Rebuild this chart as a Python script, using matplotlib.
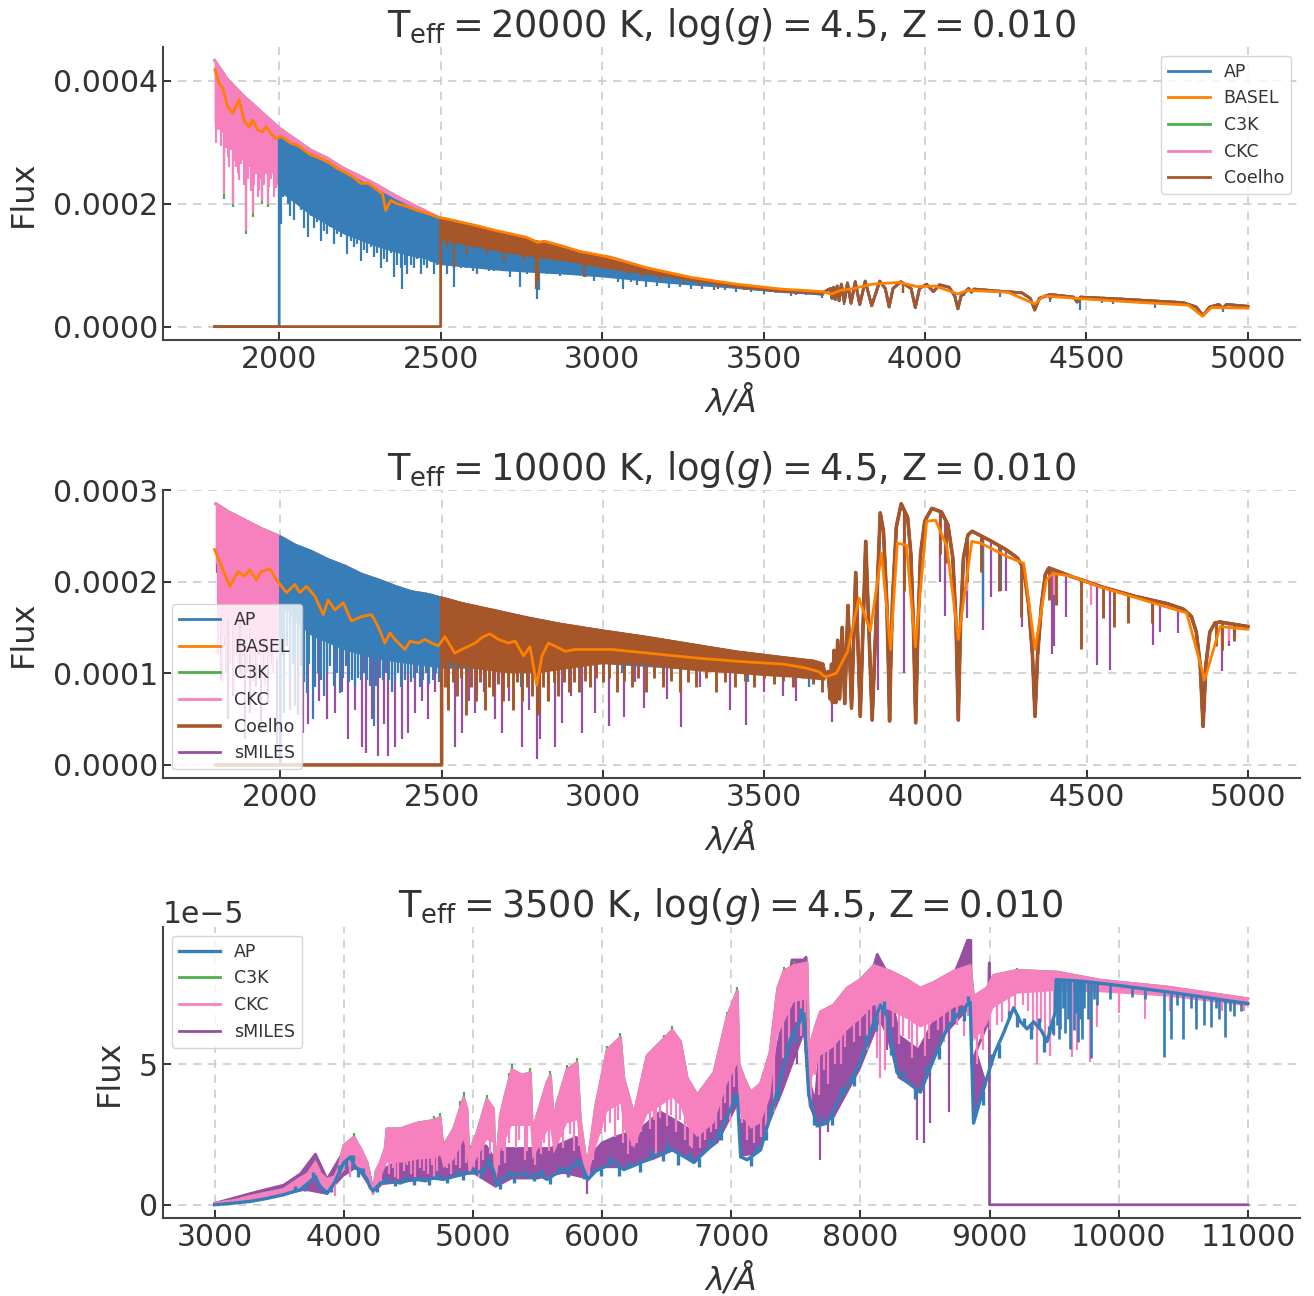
import numpy as np
import matplotlib.pyplot as plt

# ---------------------------------------------------------------------------
# Spectra, digitised as (wavelength [A], flux) knots.
# Panels 1-2 fluxes are in units of 1e-4, panel 3 in units of 1e-5.
# "top"    : upper continuum / pseudo-continuum of each model
# "base"   : lower edge of the dense line forest (filled between top and base)
# "spikes" : individual lines (wavelength, flux at the line tip)
# "ripple" : small wiggles along a curve (wavelength, offset from the curve)
# ---------------------------------------------------------------------------

# ---- Teff = 20000 K -------------------------------------------------------
p1_top = np.array([
    [1800, 4.33], [1840, 4.02], [1892, 3.74], [1943, 3.50], [2000, 3.23], [2046, 3.06],
    [2098, 2.87], [2149, 2.74], [2201, 2.57], [2253, 2.44], [2304, 2.30], [2356, 2.14],
    [2407, 2.00], [2500, 1.76], [2613, 1.60], [2768, 1.42], [2871, 1.28], [3026, 1.08],
    [3136, 0.92], [3276, 0.76], [3416, 0.65], [3556, 0.58], [3640, 0.56], [3680, 0.54],
    [3700, 0.60], [3708, 0.62], [3712, 0.46], [3717, 0.64], [3722, 0.44], [3728, 0.66],
    [3734, 0.42], [3741, 0.69], [3750, 0.40], [3760, 0.71], [3771, 0.38], [3784, 0.73],
    [3798, 0.36], [3815, 0.74], [3835, 0.34], [3860, 0.74], [3877, 0.62], [3889, 0.32],
    [3901, 0.62], [3925, 0.73], [3957, 0.62], [3970, 0.31], [3983, 0.62], [4005, 0.69],
    [4026, 0.57], [4045, 0.68], [4075, 0.64], [4092, 0.50], [4102, 0.29], [4112, 0.50],
    [4135, 0.62], [4144, 0.56], [4152, 0.61], [4220, 0.58], [4300, 0.55], [4326, 0.46],
    [4340, 0.27], [4354, 0.46], [4385, 0.52], [4388, 0.46], [4392, 0.52], [4460, 0.48],
    [4471, 0.40], [4482, 0.48], [4600, 0.45], [4700, 0.42], [4800, 0.39], [4840, 0.32],
    [4861, 0.18], [4882, 0.32], [4910, 0.36], [4922, 0.30], [4934, 0.36], [5000, 0.33]])

p1_ap_uv = np.array([
    [1800, 0], [2000, 0], [2000, 3.08], [2046, 2.94], [2098, 2.76], [2149, 2.63],
    [2201, 2.47], [2253, 2.35], [2304, 2.21], [2356, 2.06], [2407, 1.93], [2500, 1.72],
    [2613, 1.57], [2768, 1.39], [2871, 1.25], [3026, 1.05], [3136, 0.90], [3276, 0.75],
    [3416, 0.64], [3556, 0.57], [3640, 0.55], [3680, 0.53]])
p1_ap_base = np.array([
    [2000, 2.2], [2050, 2.0], [2100, 1.8], [2150, 1.65], [2200, 1.5], [2250, 1.4],
    [2300, 1.3], [2350, 1.22], [2400, 1.15], [2450, 1.1], [2500, 1.0], [2600, 0.95],
    [2700, 0.9], [2800, 0.87], [2900, 0.84], [3000, 0.8], [3200, 0.7], [3400, 0.62],
    [3690, 0.50]])
p1_ap_spikes = np.array([
    [2005, 1.67], [2012, 2.1], [2026, 2.0], [2033, 1.8], [2046, 1.73], [2055, 2.0],
    [2067, 1.9], [2078, 1.6], [2088, 1.45], [2097, 1.8], [2108, 1.6], [2117, 1.7],
    [2129, 1.40], [2138, 1.55], [2149, 1.50], [2158, 1.62], [2170, 1.35], [2180, 1.5],
    [2191, 1.45], [2200, 1.55], [2211, 1.18], [2221, 1.4], [2232, 1.30], [2242, 1.35],
    [2253, 1.07], [2262, 1.25], [2273, 1.20], [2283, 1.3], [2294, 1.13], [2304, 1.2],
    [2314, 0.96], [2324, 1.1], [2335, 1.05], [2345, 1.2], [2356, 0.80], [2366, 1.0],
    [2376, 0.96], [2381, 0.61], [2390, 1.0], [2397, 0.85], [2408, 1.0], [2418, 0.95],
    [2428, 1.1], [2438, 0.85], [2448, 1.0], [2459, 0.96], [2469, 1.05], [2479, 0.85],
    [2488, 1.0], [2495, 1.07], [2510, 1.0], [2521, 0.85], [2530, 1.0], [2541, 0.64],
    [2552, 1.0], [2562, 0.96], [2580, 0.95], [2600, 0.9], [2613, 0.85], [2630, 0.95],
    [2650, 0.9], [2665, 0.91], [2690, 0.9], [2716, 0.80], [2730, 0.9], [2747, 0.64],
    [2768, 0.85], [2785, 0.9], [2799, 0.45], [2805, 0.6], [2830, 0.85], [2850, 0.88],
    [2871, 0.83], [2900, 0.85], [2923, 0.85], [2950, 0.80], [2974, 0.75], [3000, 0.8],
    [3026, 0.85], [3050, 0.72], [3066, 0.61], [3090, 0.72], [3108, 0.68], [3136, 0.64],
    [3170, 0.66], [3206, 0.63], [3240, 0.65], [3276, 0.61], [3310, 0.62], [3346, 0.60],
    [3380, 0.60], [3416, 0.56], [3460, 0.57], [3500, 0.53], [3540, 0.55], [3584, 0.50],
    [3630, 0.52], [3682, 0.47], [3750, 0.35], [3933, 0.55], [4121, 0.50], [4233, 0.48],
    [4387, 0.40], [4481, 0.27], [4549, 0.38], [4583, 0.36], [4713, 0.30], [4922, 0.24]])

p1_coelho_base = np.array([
    [2500, 1.4], [2600, 1.3], [2700, 1.2], [2800, 1.12], [2900, 1.05], [3000, 0.95],
    [3200, 0.80], [3400, 0.66], [3690, 0.52]])
p1_coelho_spikes = np.array([
    [2521, 1.29], [2541, 0.96], [2562, 1.35], [2582, 1.18], [2600, 1.3], [2613, 1.35],
    [2644, 1.18], [2665, 1.29], [2696, 1.07], [2727, 1.24], [2758, 1.07], [2794, 0.61],
    [2803, 0.75], [2820, 1.13], [2851, 1.07], [2882, 1.13], [2913, 1.05], [2944, 0.80],
    [2974, 1.02], [3026, 0.96], [3080, 0.85], [3120, 0.80], [3180, 0.75], [3250, 0.70],
    [3300, 0.66], [3360, 0.62], [3440, 0.60], [3520, 0.56], [3600, 0.52], [3933, 0.55],
    [4128, 0.55], [4481, 0.42], [4549, 0.42], [4584, 0.40]])

p1_ckc_base = np.array([
    [1800, 3.3], [1850, 3.0], [1900, 2.75], [1950, 2.55], [2000, 2.45], [2100, 2.35],
    [2200, 2.15], [2300, 1.95], [2400, 1.8], [2500, 1.6], [2700, 1.35], [3000, 1.0],
    [3300, 0.72], [3690, 0.53]])
p1_ckc_spikes = np.array([
    [1804, 2.98], [1812, 3.2], [1820, 2.93], [1830, 2.16], [1836, 2.9], [1840, 2.76],
    [1846, 2.6], [1851, 2.87], [1856, 2.00], [1862, 2.7], [1866, 2.60], [1871, 2.5],
    [1876, 2.38], [1882, 2.65], [1887, 2.71], [1892, 2.3], [1897, 1.56], [1902, 2.4],
    [1907, 2.60], [1913, 2.2], [1918, 1.84], [1923, 2.3], [1928, 2.49], [1933, 2.1],
    [1938, 2.22], [1943, 2.4], [1948, 2.05], [1954, 2.3], [1959, 2.49], [1964, 2.0],
    [1969, 2.27], [1974, 2.4], [1979, 2.60], [1985, 2.1], [1990, 2.25], [1995, 2.3]])
p1_c3k_spikes = np.array([
    [1830, 2.08], [1856, 1.94], [1897, 1.50], [1918, 1.78], [1948, 1.99], [1964, 1.94]])

p1_basel = np.array([
    [1801, 4.18], [1814, 3.96], [1825, 3.88], [1840, 3.58], [1856, 3.47], [1876, 3.69],
    [1892, 3.34], [1907, 3.25], [1918, 3.36], [1933, 3.20], [1948, 3.17], [1959, 3.25],
    [1974, 3.14], [1990, 3.06], [2005, 3.09], [2021, 3.04], [2036, 2.98], [2057, 2.95],
    [2077, 2.87], [2098, 2.79], [2119, 2.76], [2139, 2.71], [2160, 2.65], [2180, 2.57],
    [2201, 2.52], [2227, 2.44], [2253, 2.33], [2278, 2.33], [2304, 2.22], [2320, 2.16],
    [2330, 1.89], [2345, 2.05], [2366, 2.00], [2397, 1.95], [2428, 1.89], [2459, 1.84],
    [2490, 1.78], [2521, 1.75], [2562, 1.70], [2613, 1.64], [2665, 1.57], [2716, 1.51],
    [2768, 1.45], [2799, 1.37], [2820, 1.39], [2871, 1.32], [2933, 1.22], [3026, 1.13],
    [3136, 0.96], [3276, 0.80], [3416, 0.69], [3556, 0.61], [3682, 0.57], [3710, 0.53],
    [3738, 0.59], [3780, 0.62], [3836, 0.69], [3920, 0.72], [3976, 0.65], [4032, 0.66],
    [4102, 0.53], [4130, 0.59], [4256, 0.56], [4340, 0.37], [4368, 0.50], [4466, 0.46],
    [4676, 0.39], [4816, 0.35], [4859, 0.17], [4887, 0.31], [5000, 0.30]])

# ---- Teff = 10000 K -------------------------------------------------------
p2_top = np.array([
    [1800, 2.85], [1840, 2.76], [1890, 2.67], [1940, 2.58], [2000, 2.49], [2045, 2.40],
    [2096, 2.33], [2148, 2.24], [2200, 2.17], [2252, 2.08], [2303, 2.02], [2355, 1.95],
    [2407, 1.89], [2459, 1.86], [2500, 1.82], [2562, 1.76], [2666, 1.68], [2769, 1.60],
    [2873, 1.53], [3000, 1.46], [3136, 1.39], [3276, 1.31], [3416, 1.23], [3556, 1.17],
    [3654, 1.13], [3682, 1.10], [3690, 0.96], [3698, 1.02], [3705, 0.72], [3709, 1.10],
    [3712, 0.68], [3717, 1.25], [3722, 0.68], [3728, 1.36], [3734, 0.72], [3742, 1.50],
    [3750, 0.67], [3760, 1.74], [3771, 0.62], [3784, 2.10], [3798, 0.53], [3815, 2.44],
    [3835, 0.49], [3860, 2.75], [3870, 2.55], [3880, 1.8], [3886, 1.0], [3889, 0.48],
    [3892, 1.0], [3898, 1.8], [3910, 2.6], [3925, 2.85], [3945, 2.70], [3955, 2.3],
    [3963, 1.5], [3970, 0.46], [3977, 1.5], [3985, 2.3], [3998, 2.66], [4020, 2.80],
    [4050, 2.76], [4070, 2.62], [4085, 2.26], [4095, 1.54], [4102, 0.49], [4109, 1.54],
    [4118, 2.26], [4132, 2.51], [4145, 2.55], [4200, 2.45], [4250, 2.35], [4285, 2.26],
    [4305, 2.14], [4320, 1.75], [4332, 1.2], [4340, 0.53], [4348, 1.2], [4360, 1.75],
    [4372, 2.08], [4383, 2.15], [4450, 2.06], [4550, 1.94], [4650, 1.84], [4750, 1.76],
    [4800, 1.70], [4825, 1.62], [4840, 1.45], [4852, 1.1], [4861, 0.42], [4870, 1.1],
    [4882, 1.45], [4898, 1.55], [4914, 1.56], [5000, 1.51]])

p2_ap_base = np.array([
    [2000, 1.8], [2050, 1.55], [2100, 1.4], [2200, 1.25], [2300, 1.15], [2400, 1.1],
    [2500, 1.05], [2700, 1.05], [3000, 1.1], [3300, 1.03], [3690, 0.95]])
p2_ap_spikes = np.array([
    [2005, 1.2], [2012, 0.57], [2020, 1.3], [2030, 0.93], [2040, 1.1], [2046, 0.64],
    [2055, 1.2], [2063, 1.08], [2072, 0.9], [2081, 0.79], [2090, 1.1], [2100, 0.5],
    [2108, 0.85], [2117, 1.0], [2127, 0.93], [2136, 0.75], [2146, 1.0], [2155, 1.08],
    [2165, 0.86], [2174, 1.0], [2184, 0.79], [2193, 0.95], [2203, 1.08], [2212, 0.9],
    [2222, 0.93], [2231, 0.86], [2241, 0.95], [2250, 0.93], [2260, 1.0], [2270, 0.93],
    [2279, 0.86], [2289, 0.42], [2298, 0.86], [2308, 0.95], [2317, 0.93], [2327, 1.0],
    [2337, 0.93], [2346, 0.8], [2356, 0.93], [2366, 1.0], [2375, 0.85], [2385, 0.93],
    [2395, 1.0], [2404, 0.9], [2414, 0.95], [2424, 1.0], [2433, 0.85], [2443, 0.93],
    [2453, 1.0], [2462, 0.88], [2472, 0.93], [2482, 1.0], [2491, 0.9], [2610, 0.8],
    [2745, 0.85], [2852, 0.9], [3060, 1.0], [3450, 0.9], [3640, 0.85], [4130, 2.0],
    [4178, 1.7], [4233, 1.9], [4385, 1.8]])

p2_coelho_base = np.array([
    [2500, 1.15], [2600, 1.05], [2700, 1.0], [2800, 1.0], [2900, 1.05], [3000, 1.1],
    [3100, 1.1], [3200, 1.06], [3300, 1.02], [3400, 1.0], [3500, 0.97], [3600, 0.95],
    [3690, 0.92]])
p2_coelho_spikes = np.array([
    [2510, 0.85], [2520, 0.6], [2535, 0.9], [2548, 0.75], [2560, 0.95], [2575, 0.55],
    [2590, 0.85], [2605, 0.7], [2620, 0.9], [2633, 0.6], [2648, 0.85], [2660, 0.75],
    [2675, 0.88], [2690, 0.7], [2705, 0.85], [2720, 0.6], [2735, 0.9], [2750, 0.7],
    [2765, 0.85], [2780, 0.75], [2795, 0.55], [2803, 0.6], [2815, 0.85], [2830, 0.7],
    [2848, 0.9], [2862, 0.75], [2880, 0.9], [2895, 0.8], [2910, 0.9], [2925, 0.8],
    [2945, 0.92], [2960, 0.85], [2980, 0.95], [3000, 0.9], [3020, 0.95], [3045, 0.8],
    [3065, 0.92], [3090, 0.85], [3110, 0.95], [3135, 0.8], [3160, 0.95], [3185, 0.85],
    [3210, 0.92], [3240, 0.8], [3265, 0.9], [3290, 0.85], [3320, 0.95], [3350, 0.8],
    [3380, 0.9], [3410, 0.85], [3440, 0.92], [3470, 0.85], [3500, 0.95], [3530, 0.88],
    [3560, 0.92], [3590, 0.85], [3620, 0.95], [3650, 0.88], [3680, 0.8], [3933, 1.9],
    [4045, 2.3], [4063, 2.2], [4128, 2.0], [4172, 2.1], [4227, 1.9], [4298, 1.61],
    [4384, 1.8], [4404, 1.75], [4481, 1.27], [4550, 1.6], [4584, 1.5], [4629, 1.55],
    [4703, 1.55], [4900, 1.3], [4921, 1.25], [4957, 1.35]])

p2_ckc_base = np.array([
    [1800, 2.2], [1850, 2.0], [1900, 1.9], [1950, 1.8], [2000, 1.75], [2100, 1.7],
    [2200, 1.6], [2300, 1.5], [2400, 1.45], [2500, 1.4], [2700, 1.3], [3000, 1.2],
    [3300, 1.1], [3690, 1.0]])
p2_ckc_spikes = np.array([
    [1805, 1.2], [1812, 1.5], [1818, 0.9], [1825, 1.4], [1830, 1.0], [1838, 1.6],
    [1844, 1.1], [1850, 1.5], [1856, 0.8], [1862, 1.3], [1868, 1.1], [1874, 1.6],
    [1880, 0.95], [1886, 1.4], [1892, 1.2], [1898, 1.0], [1904, 1.5], [1910, 1.2],
    [1916, 0.9], [1922, 1.4], [1928, 1.1], [1934, 1.3], [1940, 1.0], [1946, 1.4],
    [1952, 0.85], [1958, 1.3], [1964, 1.1], [1970, 1.4], [1976, 1.0], [1982, 1.3],
    [1988, 1.15], [1994, 1.35], [4128, 1.9], [4178, 1.8], [4385, 1.9], [4400, 1.85],
    [4515, 1.75], [4921, 1.3], [4940, 1.35], [4960, 1.4]])
p2_c3k_spikes = np.array([
    [1838, 1.55], [1925, 1.3], [2270, 1.3], [2590, 1.2], [2740, 1.0]])

p2_smiles_base = np.array([
    [1800, 2.1], [1900, 1.85], [2000, 1.7], [2200, 1.5], [2500, 1.35], [3000, 1.2],
    [3690, 1.0]])
p2_smiles_spikes = np.array([
    [1817, 0.93], [1827, 1.3], [1837, 0.50], [1845, 1.1], [1853, 0.75], [1864, 1.2],
    [1874, 1.0], [1889, 0.28], [1897, 1.1], [1905, 0.57], [1915, 1.0], [1925, 0.85],
    [1933, 1.2], [1941, 0.35], [1950, 1.0], [1962, 0.65], [1975, 1.1], [1988, 0.20],
    [2010, 0.9], [2030, 0.6], [2055, 0.55], [2070, 0.35], [2085, 0.45], [2120, 0.7],
    [2145, 0.5], [2169, 0.57], [2190, 0.8], [2210, 0.28], [2230, 0.6], [2252, 0.20],
    [2267, 0.13], [2285, 0.5], [2303, 0.10], [2320, 0.45], [2334, 0.10], [2355, 0.20],
    [2376, 0.28], [2397, 0.35], [2418, 0.57], [2440, 0.7], [2459, 0.50], [2480, 0.8],
    [2520, 0.65], [2541, 0.20], [2562, 0.35], [2585, 0.7], [2604, 0.57], [2630, 0.8],
    [2666, 0.50], [2686, 0.35], [2710, 0.7], [2748, 0.20], [2770, 0.6], [2795, 0.06],
    [2805, 0.28], [2830, 0.7], [2852, 0.20], [2873, 0.46], [2900, 0.75], [2935, 0.35],
    [2976, 0.57], [3018, 0.42], [3065, 0.52], [3100, 0.9], [3129, 0.62], [3199, 0.72],
    [3241, 0.41], [3300, 0.85], [3395, 0.60], [3444, 0.44], [3500, 0.80], [3560, 0.75],
    [3600, 0.70], [3710, 0.47], [3853, 0.82], [3933, 1.0], [4045, 2.0], [4062, 1.63],
    [4130, 1.6], [4179, 1.47], [4202, 1.83], [4250, 1.9], [4300, 1.5], [4393, 1.21],
    [4400, 1.3], [4435, 1.61], [4533, 1.09], [4571, 1.04], [4705, 1.31], [4726, 1.45],
    [4782, 1.44], [4921, 1.02], [4943, 1.3]])

p2_basel = np.array([
    [1796, 2.35], [1843, 1.95], [1869, 2.11], [1889, 2.06], [1905, 2.13], [1925, 2.02],
    [1941, 2.11], [1967, 2.14], [1988, 2.02], [2019, 1.88], [2045, 1.97], [2060, 1.88],
    [2081, 1.95], [2107, 1.84], [2133, 1.64], [2148, 1.80], [2169, 1.69], [2195, 1.77],
    [2220, 1.57], [2252, 1.62], [2283, 1.64], [2303, 1.51], [2324, 1.33], [2340, 1.44],
    [2355, 1.37], [2386, 1.26], [2402, 1.35], [2428, 1.33], [2448, 1.37], [2469, 1.33],
    [2490, 1.30], [2510, 1.40], [2541, 1.22], [2562, 1.26], [2604, 1.33], [2629, 1.40],
    [2650, 1.43], [2676, 1.37], [2707, 1.33], [2728, 1.35], [2754, 1.19], [2774, 1.29],
    [2795, 0.87], [2811, 1.19], [2831, 1.33], [2862, 1.28], [2883, 1.24], [2914, 1.26],
    [2945, 1.26], [3028, 1.26], [3140, 1.22], [3280, 1.17], [3420, 1.13], [3560, 1.10],
    [3626, 1.06], [3668, 1.02], [3690, 0.96], [3724, 1.00], [3759, 1.24], [3794, 1.82],
    [3829, 1.46], [3864, 2.31], [3892, 1.26], [3913, 2.42], [3941, 2.40], [3969, 1.29],
    [4004, 2.66], [4032, 2.67], [4067, 2.38], [4102, 1.37], [4144, 2.44], [4172, 2.42],
    [4256, 2.27], [4305, 2.20], [4340, 1.26], [4375, 2.02], [4396, 2.09], [4452, 2.06],
    [4536, 1.95], [4676, 1.80], [4761, 1.71], [4810, 1.66], [4866, 0.93], [4914, 1.51],
    [5000, 1.48]])

# ---- Teff = 3500 K --------------------------------------------------------
p3_ckc_top = np.array([
    [3000, 0.05], [3150, 0.15], [3278, 0.30], [3400, 0.42], [3536, 0.55], [3600, 0.75],
    [3665, 0.95], [3720, 1.1], [3781, 1.50], [3820, 1.1], [3871, 0.90], [3930, 1.0],
    [3960, 1.3], [4000, 2.1], [4077, 2.4], [4130, 2.0], [4180, 1.5], [4227, 0.4],
    [4250, 1.2], [4283, 1.5], [4320, 2.0], [4335, 2.7], [4438, 2.7], [4500, 2.8],
    [4567, 2.9], [4630, 2.95], [4696, 3.0], [4747, 3.1], [4760, 2.4], [4773, 2.1],
    [4851, 2.7], [4928, 3.8], [4954, 3.4], [4970, 1.6], [5000, 2.2], [5031, 2.55],
    [5108, 3.75], [5160, 3.4], [5173, 0.9], [5212, 3.15], [5250, 3.9], [5302, 4.8],
    [5380, 4.6], [5445, 4.7], [5460, 2.6], [5574, 4.35], [5600, 4.6], [5625, 2.9],
    [5650, 3.6], [5729, 4.8], [5806, 5.05], [5832, 3.0], [5884, 1.3], [5950, 3.5],
    [6039, 5.5], [6142, 5.95], [6168, 4.5], [6246, 3.2], [6349, 5.3], [6478, 5.9],
    [6543, 6.2], [6607, 5.8], [6659, 4.5], [6737, 3.9], [6866, 4.7], [6969, 6.7],
    [7047, 7.6], [7060, 5.0], [7100, 4.5], [7150, 4.0], [7227, 4.3], [7300, 5.4],
    [7360, 7.7], [7407, 8.3], [7484, 8.5], [7587, 8.6], [7600, 5.5], [7650, 6.3],
    [7690, 6.85], [7793, 7.1], [7897, 7.7], [8000, 8.0], [8103, 8.5], [8232, 8.3],
    [8361, 8.0], [8464, 7.7], [8567, 7.9], [8722, 8.3], [8850, 8.5], [8876, 7.4],
    [8979, 7.7], [9031, 8.15], [9212, 8.33], [9522, 8.27], [9858, 7.98], [10375, 7.74],
    [11000, 7.32]])
p3_ckc_base = np.array([
    [3000, 0.0], [3278, 0.15], [3536, 0.3], [3665, 0.55], [3781, 0.9], [3871, 0.5],
    [4000, 1.2], [4077, 1.5], [4180, 1.0], [4227, 0.35], [4283, 0.9], [4335, 1.5],
    [4450, 1.5], [4567, 1.6], [4696, 1.65], [4747, 1.75], [4773, 1.3], [4851, 1.6],
    [4928, 2.3], [4954, 1.8], [4970, 1.0], [5000, 1.4], [5108, 2.3], [5160, 2.2],
    [5173, 0.6], [5212, 1.9], [5302, 2.8], [5445, 2.8], [5460, 1.6], [5574, 2.6],
    [5600, 2.7], [5625, 1.8], [5729, 2.9], [5806, 3.0], [5832, 1.9], [5884, 0.9],
    [5950, 2.0], [6039, 3.3], [6142, 3.6], [6168, 2.7], [6246, 2.0], [6349, 3.2],
    [6478, 3.6], [6543, 3.8], [6607, 3.5], [6659, 2.8], [6737, 2.4], [6866, 2.9],
    [6969, 4.3], [7047, 5.0], [7060, 3.3], [7150, 2.7], [7227, 2.9], [7300, 3.8],
    [7360, 6.0], [7484, 7.2], [7587, 7.3], [7600, 4.2], [7690, 5.3], [7793, 5.6],
    [7897, 6.2], [8000, 6.6], [8103, 7.1], [8232, 6.9], [8361, 6.6], [8464, 6.3],
    [8567, 6.5], [8722, 7.0], [8850, 7.2], [8876, 5.8], [8979, 6.4], [9031, 7.0],
    [9212, 7.5], [9522, 7.6], [9858, 7.55], [10375, 7.4], [11000, 7.05]])
p3_ckc_spikes = np.array([
    [3935, 0.3], [4050, 1.0], [4290, 0.7], [4350, 1.1], [4380, 1.3], [4400, 1.0],
    [4420, 0.9], [4470, 1.2], [4490, 1.4], [4520, 1.1], [4550, 1.0], [4590, 1.3],
    [4620, 1.2], [4650, 1.1], [4680, 1.4], [4700, 1.0], [4720, 1.2], [4800, 1.3],
    [4830, 1.1], [4870, 1.4], [4900, 1.3], [4950, 1.5], [5010, 1.2], [5050, 1.0],
    [5080, 1.6], [5130, 1.8], [5200, 1.4], [5230, 1.9], [5250, 1.5], [5280, 2.2],
    [5330, 2.0], [5360, 2.3], [5400, 1.6], [5420, 1.9], [5480, 1.4], [5510, 2.0],
    [5530, 1.8], [5550, 2.2], [5590, 1.9], [5660, 2.2], [5690, 2.4], [5700, 2.0],
    [5750, 2.5], [5780, 1.9], [5820, 2.1], [5900, 1.0], [5930, 1.6], [5960, 2.3],
    [5990, 2.5], [6020, 2.6], [6060, 2.9], [6100, 2.4], [6120, 3.0], [6160, 2.2],
    [6200, 1.8], [6230, 2.1], [6270, 2.2], [6300, 2.6], [6320, 2.9], [6370, 2.7],
    [6400, 3.0], [6420, 1.7], [6450, 3.1], [6500, 2.8], [6530, 3.2], [6570, 2.6],
    [6600, 3.0], [6640, 2.3], [6680, 2.1], [6700, 2.0], [6760, 2.0], [6800, 2.3],
    [6840, 2.6], [6880, 2.7], [6920, 3.0], [6950, 3.6], [6990, 3.0], [7020, 4.2],
    [7080, 2.9], [7120, 2.3], [7180, 2.2], [7230, 2.4], [7270, 2.8], [7330, 3.3],
    [7400, 5.2], [7450, 5.8], [7500, 6.5], [7540, 6.0], [7570, 6.4], [7620, 3.7],
    [7650, 4.6], [7680, 3.9], [7720, 4.8], [7750, 4.3], [7800, 5.0], [7850, 5.0],
    [7880, 5.6], [7950, 5.8], [8000, 6.0], [8050, 5.5], [8080, 6.3], [8130, 5.2],
    [8150, 4.5], [8190, 4.8], [8250, 6.3], [8300, 5.7], [8330, 6.0], [8380, 5.9],
    [8400, 5.2], [8440, 5.6], [8500, 5.3], [8530, 5.9], [8600, 6.2], [8650, 5.8],
    [8690, 6.5], [8750, 6.4], [8800, 6.0], [8830, 6.7], [8900, 5.0], [8930, 5.9],
    [8950, 5.5], [9000, 6.2], [9060, 6.4], [9100, 6.5], [9150, 6.8], [9200, 7.0],
    [9260, 7.1], [9300, 6.9], [9340, 6.2], [9370, 5.0], [9400, 6.5], [9430, 6.0],
    [9470, 5.3], [9500, 6.0], [9639, 5.24], [9677, 5.5], [9776, 5.06], [9830, 6.3],
    [10000, 6.8], [10200, 6.6], [10400, 6.9], [10600, 6.8], [10800, 6.9], [10970, 6.9]])

# C3K follows CKC closely; its peaks poke slightly above it
p3_c3k_spikes = np.array([
    [3781, 1.6], [4077, 2.55], [4700, 3.15], [4747, 3.25], [4900, 3.7], [4928, 4.0],
    [5108, 3.9], [5280, 4.7], [5302, 5.0], [5445, 4.85], [5600, 4.75], [5729, 4.95],
    [5806, 5.2], [6039, 5.65], [6142, 6.1], [6478, 6.05], [6543, 6.35], [6969, 6.85],
    [7047, 7.75], [7407, 8.45], [7484, 8.65], [8103, 8.6], [8850, 8.6], [9212, 8.42]])

p3_smiles_top = np.array([
    [3000, 0.05], [3278, 0.40], [3536, 0.70], [3665, 1.1], [3781, 1.8], [3871, 0.9],
    [4000, 1.9], [4080, 2.4], [4180, 1.5], [4227, 0.5], [4283, 1.2], [4400, 1.5],
    [4600, 1.7], [4800, 1.9], [4950, 2.3], [5000, 1.8], [5100, 2.1], [5170, 1.6],
    [5200, 2.0], [5450, 2.0], [5600, 2.0], [5800, 2.4], [5884, 1.6], [6000, 2.2],
    [6100, 2.4], [6300, 2.7], [6450, 3.3], [6600, 2.9], [6700, 2.6], [6900, 3.5],
    [7000, 4.8], [7047, 5.7], [7060, 3.0], [7200, 3.0], [7330, 5.0], [7420, 7.0],
    [7470, 8.7], [7560, 8.7], [7580, 8.8], [7600, 4.5], [7650, 3.6], [7700, 6.5],
    [7900, 7.2], [8000, 7.6], [8100, 8.4], [8130, 8.9], [8200, 8.3], [8300, 6.0],
    [8450, 5.5], [8600, 6.8], [8780, 8.8], [8830, 9.4], [8855, 9.4], [8860, 5.0],
    [8900, 5.5], [8990, 6.5], [8998, 8.6], [9000, 0.0], [11000, 0.0]])
p3_smiles_base = np.array([
    [3000, 0.0], [3500, 0.3], [3700, 0.5], [3870, 0.35], [4000, 1.0], [4100, 1.3],
    [4227, 0.4], [4300, 0.7], [4500, 0.8], [4700, 0.9], [4900, 1.0], [5000, 1.1],
    [5175, 0.6], [5300, 0.9], [5500, 0.9], [5700, 1.1], [5884, 0.9], [6000, 1.3],
    [6200, 1.3], [6400, 1.6], [6550, 1.9], [6700, 1.5], [6900, 2.2], [7047, 3.5],
    [7070, 1.7], [7200, 1.8], [7400, 4.0], [7560, 6.0], [7600, 3.5], [7670, 2.8],
    [7800, 3.1], [8000, 4.8], [8150, 6.5], [8200, 6.0], [8290, 4.5], [8460, 4.0],
    [8650, 6.0], [8850, 7.0], [8870, 2.9], [8980, 4.3]])
p3_smiles_spikes = np.array([
    [5884, 0.4], [6440, 2.9], [7510, 5.0], [7690, 1.6], [8438, 2.3], [8490, 2.2],
    [8541, 2.9], [8683, 3.3], [8205, 5.5], [7750, 2.6]])

p3_ap_top = np.array([
    [3000, 0.0], [3150, 0.06], [3278, 0.12], [3400, 0.22], [3536, 0.36], [3600, 0.45],
    [3665, 0.54], [3720, 0.75], [3781, 1.0], [3820, 0.6], [3871, 0.4], [3930, 0.8],
    [4000, 1.5], [4052, 1.7], [4090, 1.3], [4129, 1.25], [4180, 0.9], [4206, 0.6],
    [4227, 0.5], [4283, 0.77], [4360, 0.85], [4438, 0.77], [4500, 0.88], [4567, 0.9],
    [4630, 0.85], [4696, 0.95], [4770, 0.9], [4851, 1.0], [4954, 1.13], [5031, 1.13],
    [5100, 1.3], [5134, 1.5], [5160, 1.2], [5186, 0.7], [5250, 1.0], [5350, 1.1],
    [5445, 1.0], [5500, 1.1], [5574, 0.9], [5640, 1.1], [5703, 1.25], [5780, 1.35],
    [5832, 1.5], [5890, 0.9], [5950, 1.2], [6020, 1.35], [6091, 1.5], [6168, 1.25],
    [6250, 1.4], [6349, 1.6], [6440, 1.8], [6543, 1.95], [6640, 1.7], [6711, 1.5],
    [6800, 1.9], [6866, 2.2], [6969, 3.15], [7047, 3.9], [7073, 1.7], [7124, 1.6],
    [7227, 1.95], [7330, 3.6], [7400, 4.8], [7459, 5.9], [7520, 6.4], [7562, 6.8],
    [7600, 3.9], [7665, 2.8], [7742, 2.9], [7820, 3.6], [7897, 4.2], [8000, 5.05],
    [8080, 6.2], [8155, 7.1], [8206, 6.7], [8283, 4.7], [8380, 4.3], [8464, 4.0],
    [8570, 5.2], [8670, 6.25], [8760, 6.8], [8850, 7.2], [8876, 2.9], [8920, 3.6],
    [8979, 4.5], [9040, 5.4], [9108, 6.1], [9186, 7.0], [9240, 6.5], [9290, 6.25],
    [9341, 6.5], [9400, 6.2], [9445, 5.8], [9480, 6.4], [9509, 6.85], [9515, 8.0],
    [9700, 7.95], [9987, 7.8], [10400, 7.55], [11000, 7.15]])
p3_ap_ripple = np.array([
    [3620, 0.2], [3700, -0.2], [3760, 0.25], [3900, -0.15], [3960, 0.3], [4020, -0.3],
    [4070, 0.25], [4110, -0.3], [4150, 0.2], [4260, -0.2], [4320, 0.2], [4400, -0.15],
    [4470, 0.2], [4540, -0.2], [4600, 0.15], [4660, -0.2], [4730, 0.2], [4800, -0.15],
    [4880, 0.25], [4920, -0.2], [5000, 0.2], [5060, -0.25], [5120, 0.3], [5210, -0.25],
    [5280, 0.2], [5320, -0.3], [5400, 0.2], [5470, -0.2], [5530, 0.25], [5600, -0.25],
    [5670, 0.2], [5740, -0.3], [5800, 0.25], [5860, -0.3], [5920, 0.2], [5990, -0.25],
    [6060, 0.3], [6130, -0.35], [6200, 0.25], [6290, -0.3], [6380, 0.3], [6470, -0.3],
    [6500, 0.35], [6590, -0.4], [6680, 0.3], [6750, -0.35], [6830, 0.3], [6920, -0.4],
    [7010, 0.4], [7150, -0.3], [7190, 0.3], [7270, -0.35], [7300, 0.4], [7360, -0.4],
    [7430, 0.4], [7490, -0.4], [7540, 0.4], [7640, -0.4], [7700, 0.3], [7780, -0.4],
    [7850, 0.35], [7950, -0.4], [8040, 0.4], [8120, -0.5], [8180, 0.35], [8240, -0.5],
    [8330, 0.3], [8420, -0.4], [8510, 0.4], [8610, -0.45], [8720, 0.35], [8800, -0.45],
    [8830, 0.3], [8950, -0.5], [9010, 0.4], [9070, -0.5], [9150, 0.3], [9210, -0.45],
    [9270, 0.3], [9320, -0.5], [9380, 0.35], [9420, -0.6], [9460, 0.3], [9490, -0.5]])
p3_ap_spikes = np.array([
    [9522, 6.4], [9535, 5.9], [9548, 6.25], [9565, 7.0], [9587, 6.1], [9605, 6.6],
    [9626, 5.54], [9651, 6.2], [9668, 6.8], [9682, 5.8], [9700, 6.6], [9716, 5.9],
    [9735, 7.0], [9760, 6.6], [9786, 5.2], [9810, 7.3], [9832, 7.1], [9936, 7.3],
    [10100, 7.4], [10200, 7.3], [10349, 5.24], [10401, 5.9], [10450, 7.1], [10499, 5.9],
    [10560, 7.0], [10595, 6.25], [10659, 6.4], [10711, 6.3], [10750, 7.0], [10776, 6.6],
    [10820, 5.95], [10860, 6.9], [10892, 6.7], [10950, 6.9]])

titles = [r"$T_{eff} = 20000$ K, $\log(\mathit{g}) = 4.5$, $Z = 0.010$",
          r"$T_{eff} = 10000$ K, $\log(\mathit{g}) = 4.5$, $Z = 0.010$",
          r"$T_{eff} = 3500$ K, $\log(\mathit{g}) = 4.5$, $Z = 0.010$"]

colors = {"AP": "#377eb8", "BASEL": "#ff7f00", "C3K": "#4daf4a",
          "CKC": "#f781bf", "Coelho": "#a65628", "sMILES": "#984ea3"}

plt.rcParams.update({
    "font.family": "DejaVu Sans",
    "mathtext.fontset": "dejavusans",
    "mathtext.default": "regular",
    "font.size": 21.5,
    "text.color": "#333333",
    "axes.labelcolor": "#333333",
    "xtick.color": "#333333",
    "ytick.color": "#333333",
    "axes.edgecolor": "#444444",
    "axes.linewidth": 1.5,
    "xtick.direction": "in",
    "ytick.direction": "in",
    "xtick.major.size": 6,
    "ytick.major.size": 6,
    "xtick.major.width": 1.4,
    "ytick.major.width": 1.4,
    "axes.spines.top": False,
    "axes.spines.right": False,
    "axes.axisbelow": True,
})


def draw(ax, top, name, z, unit, base=None, spikes=None, ripple=None, lw=2.0):
    c = colors[name]
    ax.plot(top[:, 0], top[:, 1] * unit, color=c, lw=lw, label=name, zorder=z)
    if base is not None:
        sel = (top[:, 0] >= base[0, 0]) & (top[:, 0] <= base[-1, 0])
        xs = np.r_[top[sel, 0], base[::-1, 0]]
        ys = np.r_[top[sel, 1], base[::-1, 1]]
        ax.fill(xs, ys * unit, color=c, lw=0, zorder=z)
    if spikes is not None:
        hi = np.interp(spikes[:, 0], top[:, 0], top[:, 1])
        ax.vlines(spikes[:, 0], spikes[:, 1] * unit, hi * unit, color=c,
                  lw=lw * 0.8, zorder=z)
    if ripple is not None:
        mid = np.interp(ripple[:, 0], top[:, 0], top[:, 1])
        ax.vlines(ripple[:, 0], mid * unit, (mid + ripple[:, 1]) * unit, color=c,
                  lw=lw, zorder=z)


def style(ax, title, xticks, yticks):
    ax.grid(True, color="#cccccc", linestyle="--", linewidth=1.2, dashes=(5, 4))
    ax.set_title(title, fontsize=26.5, pad=7)
    ax.set_xlabel("λ/Å", fontstyle="italic", fontsize=23, labelpad=8)
    ax.set_ylabel("Flux", fontsize=23, labelpad=10)
    ax.set_xticks(xticks)
    ax.set_yticks(yticks)


fig = plt.figure(figsize=(13.14, 12.96), dpi=100)
ax1 = fig.add_axes([0.124, 0.7377, 0.865, 0.2260])
ax2 = fig.add_axes([0.124, 0.3997, 0.865, 0.2222])
ax3 = fig.add_axes([0.124, 0.0602, 0.865, 0.2245])

# Teff = 20000 K
u = 1e-4
ap1 = np.vstack([p1_ap_uv, p1_top[p1_top[:, 0] > 3690]])
coelho1 = np.vstack([[[1800, 0], [2500, 0]], p1_top[p1_top[:, 0] >= 2500]])
draw(ax1, ap1, "AP", 2.3, u, p1_ap_base, p1_ap_spikes)
draw(ax1, p1_basel, "BASEL", 2.6, u)
draw(ax1, p1_top, "C3K", 2.1, u, None, p1_c3k_spikes)
draw(ax1, p1_top, "CKC", 2.2, u, p1_ckc_base, p1_ckc_spikes)
draw(ax1, coelho1, "Coelho", 2.4, u, p1_coelho_base, p1_coelho_spikes)
style(ax1, titles[0], np.arange(2000, 5001, 500), [0, 2e-4, 4e-4])
ax1.legend(loc="upper right", fontsize=12.5, handlelength=2.4)

# Teff = 10000 K
ap2 = np.vstack([[[1800, 0], [2000, 0]], p2_top[p2_top[:, 0] >= 2000]])
coelho2 = np.vstack([[[1800, 0], [2500, 0]], p2_top[p2_top[:, 0] >= 2500]])
draw(ax2, ap2, "AP", 2.3, u, p2_ap_base, p2_ap_spikes)
draw(ax2, p2_basel, "BASEL", 2.6, u)
draw(ax2, p2_top, "C3K", 2.1, u, None, p2_c3k_spikes)
draw(ax2, p2_top, "CKC", 2.2, u, p2_ckc_base, p2_ckc_spikes)
draw(ax2, coelho2, "Coelho", 2.4, u, p2_coelho_base, p2_coelho_spikes, lw=2.6)
draw(ax2, p2_top, "sMILES", 2.0, u, p2_smiles_base, p2_smiles_spikes)
style(ax2, titles[1], np.arange(2000, 5001, 500), [0, 1e-4, 2e-4, 3e-4])
ax2.legend(loc="lower left", fontsize=12.5, handlelength=2.4)

# Teff = 3500 K
u = 1e-5
draw(ax3, p3_ap_top, "AP", 2.4, u, None, p3_ap_spikes, p3_ap_ripple, lw=2.4)
draw(ax3, p3_ckc_top, "C3K", 2.05, u, None, p3_c3k_spikes)
draw(ax3, p3_ckc_top, "CKC", 2.1, u, p3_ckc_base, p3_ckc_spikes)
draw(ax3, p3_smiles_top, "sMILES", 2.0, u, p3_smiles_base, p3_smiles_spikes)
style(ax3, titles[2], np.arange(3000, 11001, 1000), [0, 5e-5])
ax3.legend(loc="upper left", fontsize=12.5, handlelength=2.4)

fig.savefig("out.png", dpi=100, facecolor="white")
